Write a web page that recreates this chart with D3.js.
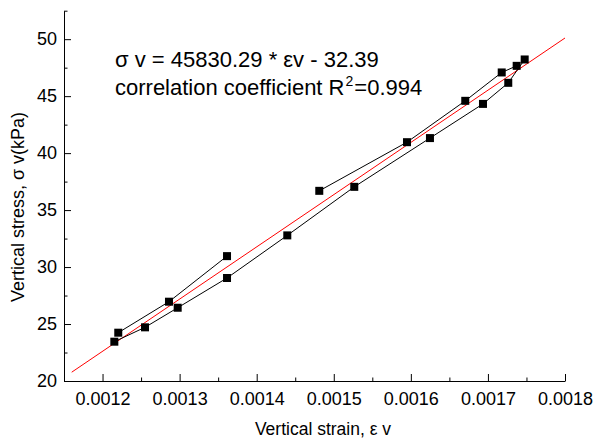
<!DOCTYPE html>
<html>
<head>
<meta charset="utf-8">
<script src="https://cdn.jsdelivr.net/npm/d3@7"></script>
<style>
  body{margin:0;background:#fff;}
  text{font-family:"Liberation Sans",Arial,Helvetica,sans-serif;fill:#000;}
</style>
</head>
<body>
<div id="graphique"></div>
<script>
// stress-strain points, two branches
const upperA_strain=[0.0012204,0.0012862,0.0013615];
const upperA_stress=[24.24,26.96,30.96];
const upperB_strain=[0.0014812,0.001595,0.0016706,0.0017179,0.0017373];
const upperB_stress=[36.69,40.96,44.59,47.08,47.66];
const lower_strain=[0.0012153,0.0012551,0.0012975,0.0013615,0.0014397,0.0015266,0.0016248,0.0016936,0.0017264,0.0017477];
const lower_stress=[23.45,24.71,26.43,29.04,32.78,37.04,41.32,44.32,46.17,48.22];
// linear fit sigma = a*eps + b
const fit_slope=45830.29, fit_intercept=-32.39;
const fit_range=[0.00116,0.0018];
const x_ticks=[0.0012,0.0013,0.0014,0.0015,0.0016,0.0017,0.0018];
const x_minor=[0.00125,0.00135,0.00145,0.00155,0.00165,0.00175];
const y_ticks=[20,25,30,35,40,45,50];
const y_minor=[22.5,27.5,32.5,37.5,42.5,47.5,52.5];

const width=601,height=440;
const svg=d3.select("#graphique").append("svg")
    .attr("width",width).attr("height",height);

const x_scale=d3.scaleLinear().domain([0.00115,0.0018]).range([64,565]);
const y_scale=d3.scaleLinear().domain([20,52.5]).range([381,10.7]);

// axes (ticks point inside)
const x_axis=d3.axisBottom(x_scale).tickValues(x_ticks)
    .tickFormat(d3.format(".4f")).tickSizeInner(-7).tickSizeOuter(0).tickPadding(11);
svg.append("g").attr("class","x axis")
    .attr("transform","translate(0,381)").call(x_axis);
svg.append("g").attr("transform","translate(0,381)")
    .call(d3.axisBottom(x_scale).tickValues(x_minor).tickFormat("").tickSizeInner(-3.5).tickSizeOuter(0))
    .select(".domain").remove();

const y_axis=d3.axisLeft(y_scale).tickValues(y_ticks)
    .tickSizeInner(-7).tickSizeOuter(0).tickPadding(7);
svg.append("g").attr("class","y axis")
    .attr("transform","translate(64,0)").call(y_axis);
svg.append("g").attr("transform","translate(64,0)")
    .call(d3.axisLeft(y_scale).tickValues(y_minor).tickFormat("").tickSizeInner(-3.5).tickSizeOuter(0))
    .select(".domain").remove();

svg.selectAll(".axis text").attr("font-size",18)
    .attr("font-family","Liberation Sans, Arial, sans-serif");
svg.selectAll(".tick line, .domain").attr("stroke","#000").attr("stroke-width",1);

// axis titles
svg.append("text").attr("x",323).attr("y",435).attr("text-anchor","middle")
    .attr("font-size",17.5).text("Vertical strain, ε v");
svg.append("text").attr("transform","translate(24,207) rotate(-90)")
    .attr("text-anchor","middle").attr("font-size",18)
    .text("Vertical stress, σ v(kPa)");

// fitted line
svg.append("line")
    .attr("x1",x_scale(fit_range[0])).attr("y1",y_scale(fit_slope*fit_range[0]+fit_intercept))
    .attr("x2",x_scale(fit_range[1])).attr("y2",y_scale(fit_slope*fit_range[1]+fit_intercept))
    .attr("stroke","red").attr("stroke-width",1);

// data branches
const line=d3.line().x(d=>x_scale(d[0])).y(d=>y_scale(d[1]));
const series=[
    d3.zip(upperA_strain,upperA_stress),
    d3.zip(upperB_strain,upperB_stress),
    d3.zip(lower_strain,lower_stress)
];
series.forEach(function(s){
    svg.append("path").datum(s).attr("d",line)
        .attr("fill","none").attr("stroke","#000").attr("stroke-width",1);
});
const msize=8;
series.forEach(function(s){
    svg.append("g").selectAll("rect").data(s).enter().append("rect")
        .attr("x",d=>x_scale(d[0])-msize/2).attr("y",d=>y_scale(d[1])-msize/2)
        .attr("width",msize).attr("height",msize).attr("fill","#000");
});

// equation text
const eq=svg.append("g").attr("font-size",22);
eq.append("text").attr("x",115).attr("y",67).text("σ v = 45830.29 * εv - 32.39");
const t2=eq.append("text").attr("x",115).attr("y",95).text("correlation coefficient R");
t2.append("tspan").attr("dy",-9).attr("dx",1).attr("font-size",14).text("2");
t2.append("tspan").attr("dy",9).attr("dx",1).text("=0.994");
</script>
</body>
</html>
